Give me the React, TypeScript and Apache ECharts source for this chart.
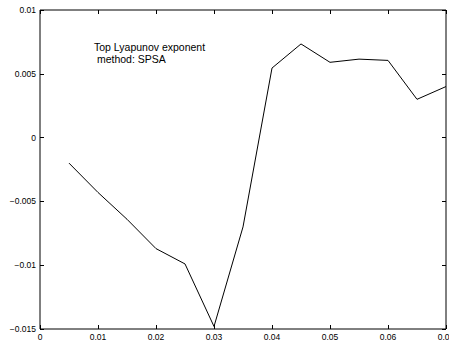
import React, { useEffect, useRef } from "react";
import * as echarts from "echarts";

const xValues = [0.005, 0.01, 0.015, 0.02, 0.025, 0.03, 0.035, 0.04, 0.045, 0.05, 0.055, 0.06, 0.065, 0.07];
const yValues = [-0.002, -0.0043, -0.0064, -0.0087, -0.0099, -0.0148, -0.007, 0.00545, 0.00734, 0.0059, 0.00615, 0.00605, 0.003, 0.004];
const annotationLines = ["Top Lyapunov exponent", " method: SPSA"];

const fmt = (v: number) => {
  const s = String(Math.round(v * 100000) / 100000);
  return s.replace("-", "\u2212");
};

export default function App() {
  const ref = useRef<HTMLDivElement>(null);
  useEffect(() => {
    document.body.style.margin = "0";
    const chart = echarts.init(ref.current!, null, { renderer: "svg" });
    const font = { fontFamily: "Liberation Sans, Arial, sans-serif", fontSize: 8.5, color: "#000" };
    chart.setOption({
      animation: false,
      backgroundColor: "#fff",
      grid: { left: 40, right: 3, top: 10, bottom: 12, show: true, borderColor: "#000", borderWidth: 1, containLabel: false, outerBoundsMode: "none" },
      xAxis: [
        {
          type: "value", min: 0, max: 0.07, interval: 0.01, position: "bottom",
          axisLine: { show: false, onZero: false }, splitLine: { show: false },
          axisTick: { inside: true, length: 4, lineStyle: { color: "#000" } },
          axisLabel: { ...font, margin: 3, formatter: fmt, showMaxLabel: true, hideOverlap: false },
        },
        {
          type: "value", min: 0, max: 0.07, interval: 0.01, position: "top",
          axisLine: { show: false, onZero: false }, splitLine: { show: false },
          axisTick: { inside: true, length: 4, lineStyle: { color: "#000" } },
          axisLabel: { show: false },
        },
      ],
      yAxis: [
        {
          type: "value", min: -0.015, max: 0.01, interval: 0.005, position: "left",
          axisLine: { show: false, onZero: false }, splitLine: { show: false },
          axisTick: { inside: true, length: 4, lineStyle: { color: "#000" } },
          axisLabel: { ...font, margin: 4, formatter: fmt },
        },
        {
          type: "value", min: -0.015, max: 0.01, interval: 0.005, position: "right",
          axisLine: { show: false, onZero: false }, splitLine: { show: false },
          axisTick: { inside: true, length: 4, lineStyle: { color: "#000" } },
          axisLabel: { show: false },
        },
      ],
      graphic: [
        {
          type: "text", left: 94, top: 41,
          style: { text: annotationLines.join("\n"), fill: "#000", font: "10.5px 'Liberation Sans', Arial, sans-serif", lineHeight: 12 },
        },
      ],
      series: [
        {
          type: "line",
          data: xValues.map((x, i) => [x, yValues[i]]),
          showSymbol: false,
          lineStyle: { color: "#000", width: 1 },
          xAxisIndex: 0, yAxisIndex: 0,
        },
      ],
    });
    return () => chart.dispose();
  }, []);
  return <div ref={ref} style={{ position: "fixed", left: 0, top: 0, width: 449, height: 341 }} />;
}
